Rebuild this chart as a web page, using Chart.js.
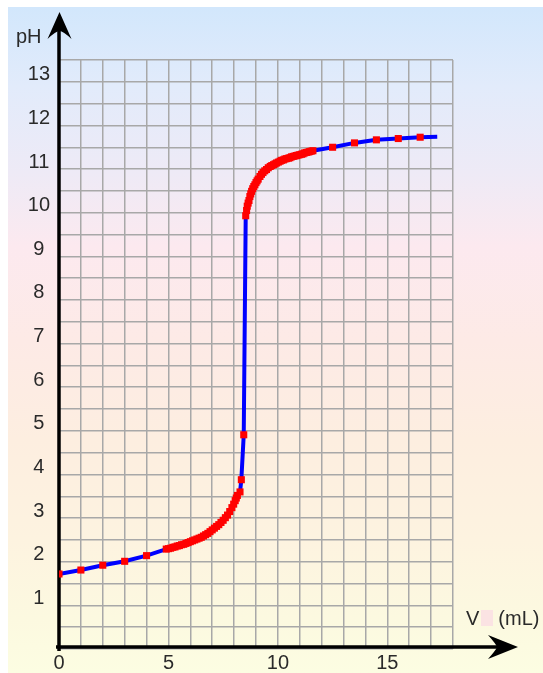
<!DOCTYPE html>
<html>
<head>
<meta charset="utf-8">
<script src="https://cdn.jsdelivr.net/npm/chart.js@4"></script>
<style>
  html, body { margin: 0; padding: 0; background: #fff; }
  #wrap { position: relative; width: 543px; height: 673px; overflow: hidden; }
  #wrap canvas { position: absolute; left: 0; top: 0; }
  .lbl { position: absolute; font: 20px "Liberation Sans", Arial, sans-serif; color: #2a2a2a; white-space: nowrap; }
  .gap { display: inline-block; width: 12px; height: 16px; margin: 0 5px -1px 2px; background: #fbe3e3; }
</style>
</head>
<body>
<div id="wrap">
  <canvas id="titration" width="543" height="673"></canvas>
  <span class="lbl" style="left:16px; top:25px;">pH</span>
  <span class="lbl" style="left:466px; top:607px;">V<span class="gap"></span>(mL)</span>
</div>
<script>
const volumes = [0, 1, 2, 3, 4,
  4.9, 5.0, 5.1, 5.2, 5.3, 5.4, 5.5, 5.6, 5.7, 5.8, 5.9, 6.0, 6.1, 6.2, 6.3, 6.4, 6.5, 6.6, 6.7, 6.8, 6.9,
  7.0, 7.1, 7.2, 7.3, 7.4, 7.5, 7.6, 7.7, 7.8, 7.9, 7.98, 8.05, 8.1, 8.15, 8.27, 8.33, 8.44,
  8.53, 8.57, 8.6, 8.64, 8.68, 8.72, 8.76, 8.8, 8.85, 8.9, 8.95, 9.0, 9.05, 9.1, 9.18, 9.25, 9.32, 9.4,
  9.48, 9.56, 9.65, 9.72, 9.8, 9.87, 9.94, 10.02, 10.1, 10.17, 10.25, 10.32, 10.4, 10.48, 10.55, 10.62,
  10.7, 10.78, 10.85, 10.92, 11.0, 11.08, 11.15, 11.22, 11.3, 11.38, 11.45, 11.52, 11.6,
  12.5, 13.5, 14.5, 15.5, 16.5];
const phValues = [1.72, 1.81, 1.92, 2.01, 2.14,
  2.29, 2.30, 2.31, 2.33, 2.34, 2.36, 2.37, 2.39, 2.40, 2.42, 2.44, 2.46, 2.48, 2.50, 2.52, 2.54, 2.56, 2.59, 2.62, 2.65, 2.69,
  2.73, 2.77, 2.81, 2.85, 2.90, 2.95, 3.01, 3.07, 3.15, 3.24, 3.32, 3.40, 3.46, 3.52, 3.60, 3.88, 4.91,
  9.93, 10.05, 10.15, 10.22, 10.28, 10.37, 10.43, 10.49, 10.55, 10.60, 10.64, 10.69, 10.73, 10.77, 10.83, 10.88, 10.92, 10.96,
  10.99, 11.03, 11.06, 11.08, 11.10, 11.12, 11.14, 11.16, 11.18, 11.20, 11.21, 11.23, 11.24, 11.25, 11.26, 11.28,
  11.29, 11.30, 11.31, 11.32, 11.33, 11.34, 11.35, 11.37, 11.38, 11.39, 11.40, 11.41, 11.42,
  11.50, 11.60, 11.67, 11.70, 11.73];
// the blue curve runs a little past the last point
const tailVolumes = [17.28];
const tailPh = [11.74];

const xTicksShown = [0, 5, 10, 15];
const yTicksShown = [1, 2, 3, 4, 5, 6, 7, 8, 9, 10, 11, 12, 13];

const toXY = (xs, ys) => xs.map((x, i) => ({ x: x, y: ys[i] }));

const paperBackground = {
  id: "paperBackground",
  beforeDraw(chart) {
    const ctx = chart.ctx;
    const g = ctx.createLinearGradient(0, 7, 0, 673);
    g.addColorStop(0, "#d2e7fc");
    g.addColorStop(0.12, "#e2ebfb");
    g.addColorStop(0.25, "#eeeaf6");
    g.addColorStop(0.36, "#fce9ef");
    g.addColorStop(0.5, "#fdeae6");
    g.addColorStop(0.65, "#fdeee0");
    g.addColorStop(0.8, "#fdf3e0");
    g.addColorStop(0.92, "#fcf9e0");
    g.addColorStop(1, "#fcfde2");
    ctx.save();
    ctx.fillStyle = g;
    ctx.fillRect(8, 7, 535, 666);
    ctx.restore();
  }
};

const arrowAxes = {
  id: "arrowAxes",
  beforeDatasetsDraw(chart) {
    const ctx = chart.ctx;
    const x0 = chart.scales.x.getPixelForValue(0);
    const y0 = chart.scales.y.getPixelForValue(0) - 2;
    ctx.save();
    ctx.strokeStyle = "#000";
    ctx.fillStyle = "#000";
    ctx.lineWidth = 3.5;
    ctx.beginPath();
    ctx.moveTo(x0, y0 + 4);
    ctx.lineTo(x0, 30);
    ctx.moveTo(x0 - 3, y0);
    ctx.lineTo(505, y0);
    ctx.stroke();
    // y arrow head
    ctx.beginPath();
    ctx.moveTo(x0 + 0.5, 12);
    ctx.lineTo(x0 + 12.5, 39);
    ctx.quadraticCurveTo(x0 + 4, 31, x0 + 0.5, 31);
    ctx.quadraticCurveTo(x0 - 3, 31, x0 - 11.5, 39);
    ctx.closePath();
    ctx.fill();
    // x arrow head
    ctx.beginPath();
    ctx.moveTo(518, y0);
    ctx.lineTo(488, y0 - 12);
    ctx.quadraticCurveTo(496, y0 - 3, 497, y0);
    ctx.quadraticCurveTo(496, y0 + 3, 488, y0 + 12);
    ctx.closePath();
    ctx.fill();
    ctx.restore();
  }
};

Chart.defaults.font.family = '"Liberation Sans", Arial, sans-serif';
Chart.defaults.font.size = 20;
Chart.defaults.color = "#2a2a2a";

new Chart(document.getElementById("titration"), {
  type: "scatter",
  data: {
    datasets: [
      {
        label: "points",
        data: toXY(volumes, phValues),
        showLine: false,
        pointStyle: "rect",
        pointRadius: 5,
        pointBorderWidth: 0,
        pointBackgroundColor: "#ff0000",
        order: 0
      },
      {
        label: "curve",
        data: toXY(volumes.concat(tailVolumes), phValues.concat(tailPh)),
        showLine: true,
        borderColor: "#0000ff",
        borderWidth: 4,
        pointRadius: 0,
        tension: 0,
        order: 1
      }
    ]
  },
  options: {
    responsive: false,
    animation: false,
    layout: { padding: { left: 0, top: 60, right: 90, bottom: 0 } },
    plugins: { legend: { display: false }, tooltip: { enabled: false } },
    scales: {
      x: {
        type: "linear",
        min: 0,
        max: 18,
        afterFit: (s) => { s.height = 24; },
        border: { display: false },
        grid: { color: "#a8a8a8", lineWidth: 1.5, drawTicks: false },
        ticks: {
          stepSize: 1,
          padding: 2,
          maxRotation: 0,
          autoSkip: false,
          callback: (v) => (xTicksShown.includes(v) ? String(v) : "")
        }
      },
      y: {
        type: "linear",
        min: 0,
        max: 13.5,
        afterFit: (s) => { s.width = 59; },
        border: { display: false },
        grid: { color: "#a8a8a8", lineWidth: 1.5, drawTicks: false },
        ticks: {
          stepSize: 0.5,
          padding: 9,
          crossAlign: "center",
          labelOffset: -7,
          autoSkip: false,
          callback: (v) => (yTicksShown.includes(v) ? String(v) : "")
        }
      }
    }
  },
  plugins: [paperBackground, arrowAxes]
});
</script>
</body>
</html>
